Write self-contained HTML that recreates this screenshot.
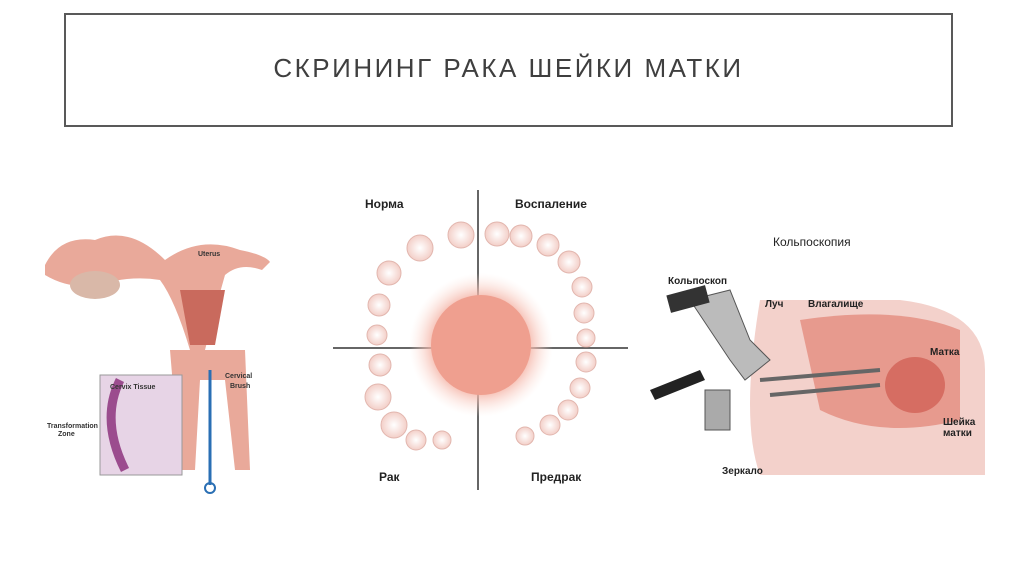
<!DOCTYPE html>
<html><head><meta charset="utf-8"><style>
html,body{margin:0;padding:0;background:#fff;}
body{width:1024px;height:574px;position:relative;overflow:hidden;font-family:"Liberation Sans","Noto Sans CJK SC",sans-serif;}
.title{position:absolute;left:64px;top:13px;width:885px;height:110px;border:2px solid #595959;box-sizing:content-box;}
.title div{position:absolute;left:0;right:0;top:38px;text-align:center;font-size:26px;letter-spacing:2.5px;color:#3f3f3f;}
svg{position:absolute;left:0;top:0;}
</style></head><body>
<div class="title"><div>СКРИНИНГ РАКА ШЕЙКИ МАТКИ</div></div>
<svg width="1024" height="574" viewBox="0 0 1024 574" font-family="Liberation Sans, sans-serif">
<defs>
<radialGradient id="g1" cx="0.5" cy="0.5" r="0.5">
<stop offset="0" stop-color="#e98a7c"/><stop offset="0.6" stop-color="#f2a899"/><stop offset="1" stop-color="#fde6df" stop-opacity="0"/></radialGradient>
<radialGradient id="c" cx="0.5" cy="0.5" r="0.5"><stop offset="0" stop-color="#fff"/><stop offset="1" stop-color="#f3cfc8"/></radialGradient>
</defs>
<!-- left: uterus -->
<path d="M45 265 Q60 235 95 240 Q130 225 165 260 Q200 235 240 250 Q265 255 270 262 L262 270 Q240 262 225 275 Q215 310 205 350 L245 350 L250 470 L235 470 L225 380 L200 380 L195 470 L180 470 L170 350 L190 350 Q175 300 160 280 Q130 275 100 285 Q70 290 45 275Z" fill="#e9a99a"/>
<path d="M180 290 Q205 290 225 290 L215 345 L190 345Z" fill="#c96a5d"/>
<ellipse cx="95" cy="285" rx="25" ry="14" fill="#d9b8a8"/>
<rect x="100" y="375" width="82" height="100" fill="#e7d4e6" stroke="#999"/>
<path d="M120 380 Q100 420 125 470" stroke="#9b4c8e" stroke-width="9" fill="none"/>
<line x1="210" y1="370" x2="210" y2="485" stroke="#2a6fb4" stroke-width="3"/>
<circle cx="210" cy="488" r="5" fill="none" stroke="#2a6fb4" stroke-width="2"/>
<g font-size="7" fill="#333" font-weight="bold"><text x="110" y="389">Cervix Tissue</text><text x="47" y="428">Transformation</text><text x="58" y="436">Zone</text><text x="225" y="378">Cervical</text><text x="230" y="388">Brush</text><text x="198" y="256">Uterus</text></g>
<!-- middle -->
<line x1="478" y1="190" x2="478" y2="490" stroke="#333" stroke-width="1.5"/>
<line x1="333" y1="348" x2="628" y2="348" stroke="#333" stroke-width="1.5"/>
<circle cx="481" cy="345" r="72" fill="url(#g1)"/>
<circle cx="481" cy="345" r="50" fill="#ef9f8f"/>
<g fill="url(#c)" stroke="#e2b6ae">
<circle cx="420" cy="248" r="13"/><circle cx="461" cy="235" r="13"/><circle cx="389" cy="273" r="12"/><circle cx="379" cy="305" r="11"/><circle cx="377" cy="335" r="10"/>
<circle cx="497" cy="234" r="12"/><circle cx="521" cy="236" r="11"/><circle cx="548" cy="245" r="11"/><circle cx="569" cy="262" r="11"/><circle cx="582" cy="287" r="10"/><circle cx="584" cy="313" r="10"/><circle cx="586" cy="338" r="9"/>
<circle cx="380" cy="365" r="11"/><circle cx="378" cy="397" r="13"/><circle cx="394" cy="425" r="13"/><circle cx="416" cy="440" r="10"/><circle cx="442" cy="440" r="9"/>
<circle cx="586" cy="362" r="10"/><circle cx="580" cy="388" r="10"/><circle cx="568" cy="410" r="10"/><circle cx="550" cy="425" r="10"/><circle cx="525" cy="436" r="9"/>
</g>
<g font-size="12" font-weight="bold" fill="#222"><text x="365" y="208">Норма</text><text x="515" y="208">Воспаление</text><text x="379" y="481">Рак</text><text x="531" y="481">Предрак</text></g>
<!-- right -->
<path d="M760 300 L900 300 Q985 310 985 370 L985 475 L760 475 Q740 420 760 300Z" fill="#f3d1cb"/>
<path d="M800 320 Q900 305 960 330 L960 420 Q880 440 820 410Z" fill="#e79a8e"/>
<ellipse cx="915" cy="385" rx="30" ry="28" fill="#d66d62"/>
<path d="M690 300 L730 290 L750 340 L770 360 L745 380 L730 360Z" fill="#bbb" stroke="#555"/>
<rect x="668" y="290" width="40" height="18" fill="#333" transform="rotate(-15 688 299)"/>
<path d="M650 390 L700 370 L705 380 L655 400Z" fill="#222"/>
<rect x="705" y="390" width="25" height="40" fill="#aaa" stroke="#555"/>
<path d="M760 380 L880 370 M770 395 L880 385" stroke="#666" stroke-width="4"/>
<g font-size="11" fill="#222"><text x="773" y="246" font-size="12">Кольпоскопия</text><text x="668" y="284" font-size="10" font-weight="bold">Кольпоскоп</text><text x="765" y="307" font-size="10" font-weight="bold">Луч</text><text x="808" y="307" font-size="10" font-weight="bold">Влагалище</text><text x="930" y="355" font-size="10" font-weight="bold">Матка</text><text x="943" y="425" font-size="10" font-weight="bold">Шейка</text><text x="943" y="436" font-size="10" font-weight="bold">матки</text><text x="722" y="474" font-size="10" font-weight="bold">Зеркало</text></g>
</svg>
</body></html>
